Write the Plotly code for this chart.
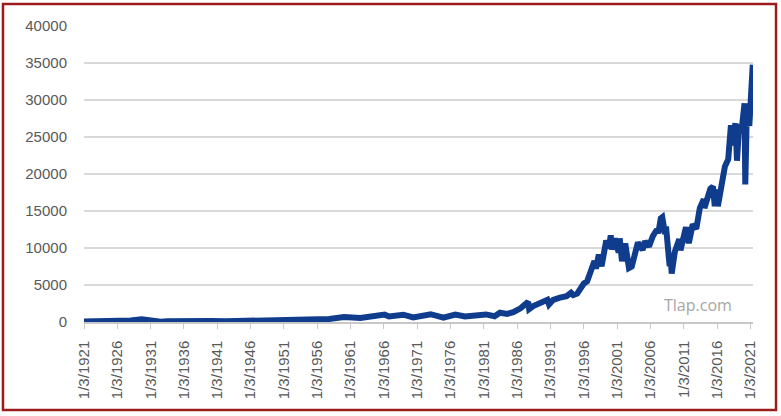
import plotly.graph_objects as go

dates = [
    "1921-01-03", "1922-06-01", "1924-01-01", "1926-01-01", "1928-01-01", "1929-09-03",
    "1930-06-01", "1932-07-08", "1933-07-01", "1937-03-10", "1938-03-31", "1940-01-01",
    "1942-04-28", "1946-05-29", "1949-06-13", "1952-01-01", "1956-04-06", "1957-10-22",
    "1960-01-05", "1962-06-26", "1966-02-09", "1966-10-07", "1968-12-03", "1970-05-26",
    "1973-01-11", "1974-12-06", "1976-09-21", "1978-02-28", "1981-04-27", "1982-08-12",
    "1983-06-01", "1984-07-01", "1985-06-01", "1986-01-02", "1986-07-01", "1987-08-25",
    "1987-10-19", "1988-06-01", "1989-10-09", "1990-07-16", "1990-10-11", "1991-06-01",
    "1992-06-01", "1993-06-01", "1994-01-31", "1994-06-01", "1995-01-03", "1995-07-01",
    "1996-01-02", "1996-07-01", "1997-01-02", "1997-08-06", "1997-10-27", "1998-04-01",
    "1998-08-31", "1999-01-04", "1999-05-13", "1999-10-15", "2000-01-14", "2000-03-07",
    "2000-09-06", "2000-12-20", "2001-03-22", "2001-05-21", "2001-09-21", "2002-03-19",
    "2002-07-23", "2002-10-09", "2003-03-11", "2003-12-31", "2004-02-11", "2004-10-25",
    "2005-03-04", "2005-10-13", "2006-05-10", "2006-12-27", "2007-03-05", "2007-07-19",
    "2007-10-09", "2008-03-10", "2008-05-01", "2008-10-10", "2008-11-20", "2009-01-02",
    "2009-03-09", "2009-08-28", "2010-04-26", "2010-07-02", "2011-04-29", "2011-10-03",
    "2012-05-01", "2012-11-15", "2013-05-28", "2013-12-31", "2014-02-03", "2014-12-26",
    "2015-05-19", "2015-08-25", "2015-11-03", "2016-02-11", "2016-08-15", "2017-03-01",
    "2017-09-01", "2018-01-26", "2018-02-08", "2018-10-03", "2018-12-24", "2019-04-23",
    "2019-08-15", "2020-02-12", "2020-03-23", "2020-06-08", "2020-10-30", "2020-12-31",
    "2021-03-15", "2021-05-07",
]
dow_values = [
    75, 90, 95, 155, 200, 381,
    250, 41, 100, 194, 99, 150,
    93, 212, 161, 270, 510, 420,
    680, 540, 995, 745, 985, 630,
    1050, 580, 1010, 740, 1025, 780,
    1250, 1090, 1320, 1550, 1850, 2720,
    1740, 2150, 2790, 3000, 2370, 3000,
    3300, 3500, 3950, 3650, 3840, 4700,
    5200, 5500, 6800, 8250, 7200, 9100,
    7540, 9300, 11000, 10000, 11720, 9800,
    11300, 10300, 9400, 11300, 8200, 10600,
    7700, 7290, 7500, 10450, 10740, 9750,
    10900, 10220, 11600, 12500, 12000, 14000,
    14160, 11900, 12900, 8500, 7550, 9000,
    6550, 9500, 11200, 9700, 12800, 10650,
    13200, 12600, 15400, 16580, 15400, 18000,
    18310, 15660, 17900, 15660, 18600, 21000,
    22000, 26600, 23900, 26830, 21790, 26650,
    25500, 29550, 18590, 27570, 26500, 30600,
    32800, 34780,
]

tick_dates = ["%d-01-03" % y for y in range(1921, 2022, 5)]
tick_labels = ["1/3/%d" % y for y in range(1921, 2022, 5)]
y_ticks = [0, 5000, 10000, 15000, 20000, 25000, 30000, 35000, 40000]

fig = go.Figure()
fig.add_trace(go.Scatter(
    x=dates, y=dow_values, mode="lines",
    line=dict(color="#0f3c8c", width=6, shape="linear"),
    showlegend=False, hoverinfo="x+y",
))

font_family = "Liberation Sans, Arial, sans-serif"
fig.update_layout(
    width=781, height=416,
    margin=dict(l=84, r=28, t=26, b=94),
    paper_bgcolor="white", plot_bgcolor="white",
    font=dict(family=font_family, size=15, color="#595959"),
    xaxis=dict(
        type="date",
        range=["1921-01-03", "2021-05-20"],
        tickmode="array", tickvals=tick_dates, ticktext=tick_labels,
        tickangle=-90, showgrid=False, showline=True, linecolor="#c8c8c8", linewidth=1.5,
        ticks="outside", ticklen=5, tickcolor="#c8c8c8", ticklabelstandoff=6,
        tickfont=dict(size=15, color="#595959"), zeroline=False,
    ),
    yaxis=dict(
        range=[0, 40000], tickmode="array", tickvals=y_ticks,
        ticktext=[str(v) for v in y_ticks],
        showgrid=True, gridcolor="#d9d9d9", gridwidth=1.5,
        showline=False, zeroline=False, ticks="", ticklabelstandoff=16,
        tickfont=dict(size=15, color="#595959"),
    ),
    shapes=[dict(
        type="rect", xref="paper", yref="paper",
        x0=-0.1211, x1=1.0344, y0=-0.2973, y1=1.0743,
        line=dict(color="#9b1c1c", width=2.5), fillcolor="rgba(0,0,0,0)", layer="above",
    )],
    annotations=[dict(
        text="Tlap.com", xref="paper", yref="paper", x=0.918, y=0.058,
        showarrow=False, font=dict(family="Open Sans, sans-serif", size=16, color="#a6a6a6"),
        xanchor="center", yanchor="middle",
    )],
)

fig.write_html("out.html")
